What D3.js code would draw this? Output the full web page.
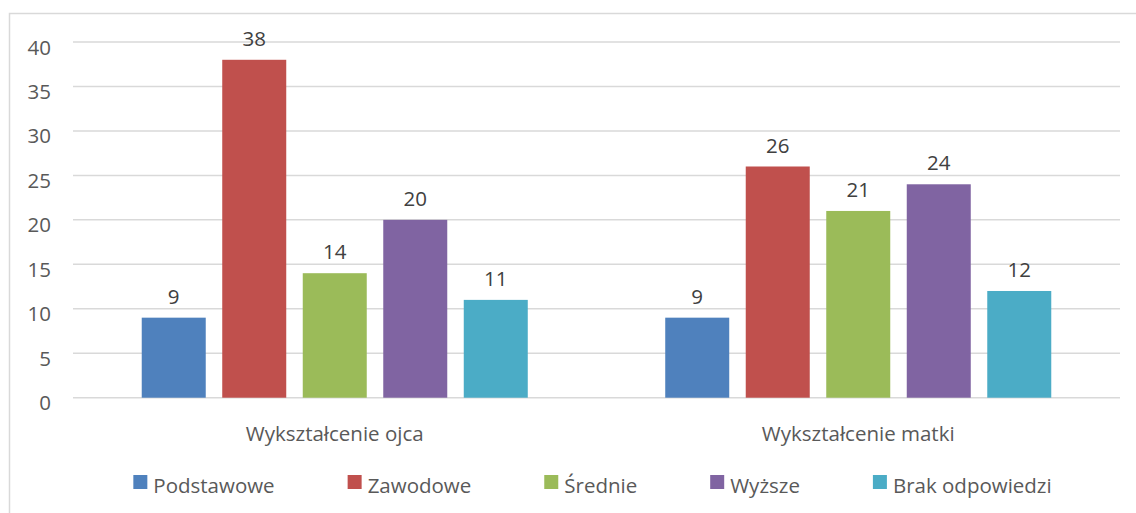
<!DOCTYPE html>
<meta charset="utf-8">
<style>
body { margin: 0; background: #fff; }
text { font-family: "Open Sans", sans-serif; }
</style>
<svg width="1136" height="513"></svg>
<script src="https://cdn.jsdelivr.net/npm/d3@7"></script>
<script>

var categories = ["Wykształcenie ojca", "Wykształcenie matki"];
var series = ["Podstawowe", "Zawodowe", "Średnie", "Wyższe", "Brak odpowiedzi"];
var ojca = [9, 38, 14, 20, 11];
var matki = [9, 26, 21, 24, 12];
var yTicks = [0, 5, 10, 15, 20, 25, 30, 35, 40];
var colors = ["#4f81bd", "#c0504d", "#9bbb59", "#8064a2", "#4bacc6"];

var values = [ojca, matki];

var svg = d3.select("svg"),
    width = +svg.attr("width"),
    height = +svg.attr("height");

// chart frame (right and bottom edges fall outside the picture)
svg.append("rect")
    .attr("x", 9.5).attr("y", 13.5)
    .attr("width", 1200).attr("height", 600)
    .attr("fill", "#fff")
    .attr("stroke", "#d9d9d9")
    .attr("stroke-width", 1.5);

var plotLeft = 73, plotRight = 1120, plotTop = 42, plotBottom = 397.7;

var y = d3.scaleLinear().domain([0, 40]).range([plotBottom, plotTop]);

var x0 = d3.scaleBand().domain(categories).range([plotLeft, plotRight]).padding(0);
var bw = x0.bandwidth(), side = bw * 0.1313;
var x1 = d3.scaleBand().domain(series).range([side, bw - side])
    .paddingInner(0.205).paddingOuter(0);

// gridlines
svg.append("g")
  .selectAll("line")
  .data(yTicks)
  .enter().append("line")
    .attr("x1", plotLeft).attr("x2", plotRight)
    .attr("y1", function(d) { return y(d); })
    .attr("y2", function(d) { return y(d); })
    .attr("stroke", "#d9d9d9")
    .attr("stroke-width", 1.5);

// y axis labels
var yAxis = d3.axisLeft(y).tickValues(yTicks).tickSize(0).tickPadding(0);
var ya = svg.append("g")
    .attr("transform", "translate(" + 51 + ",0)")
    .call(yAxis);
ya.select(".domain").remove();
ya.selectAll("text")
    .attr("font-family", "Open Sans")
    .attr("font-size", 20.5)
    .attr("fill", "#595959")
    .attr("dy", 12)
    .attr("text-anchor", "end");

// bars
var groups = svg.append("g")
  .selectAll("g")
  .data(categories)
  .enter().append("g")
    .attr("transform", function(d) { return "translate(" + x0(d) + ",0)"; });

groups.selectAll("rect")
  .data(function(d, i) { return values[i].map(function(v, j) { return {s: series[j], v: v, c: colors[j]}; }); })
  .enter().append("rect")
    .attr("x", function(d) { return x1(d.s); })
    .attr("y", function(d) { return y(d.v); })
    .attr("width", x1.bandwidth())
    .attr("height", function(d) { return y(0) - y(d.v); })
    .attr("fill", function(d) { return d.c; });

groups.selectAll("text")
  .data(function(d, i) { return values[i].map(function(v, j) { return {s: series[j], v: v}; }); })
  .enter().append("text")
    .attr("x", function(d) { return x1(d.s) + x1.bandwidth() / 2; })
    .attr("y", function(d) { return y(d.v) - 13.8; })
    .attr("text-anchor", "middle")
    .attr("font-size", 20.5)
    .attr("fill", "#404040")
    .text(function(d) { return d.v; });

// category labels
svg.append("g")
  .selectAll("text")
  .data(categories)
  .enter().append("text")
    .attr("x", function(d) { return x0(d) + bw / 2; })
    .attr("y", 441)
    .attr("text-anchor", "middle")
    .attr("font-size", 20.5)
    .attr("fill", "#595959")
    .text(function(d) { return d; });

// legend
var legend = svg.append("g");
var items = legend.selectAll("g")
  .data(series)
  .enter().append("g");

items.append("rect")
    .attr("width", 14).attr("height", 14)
    .attr("y", 475)
    .attr("fill", function(d, i) { return colors[i]; });

items.append("text")
    .attr("x", 20)
    .attr("y", 493)
    .attr("font-size", 20.5)
    .attr("fill", "#595959")
    .text(function(d) { return d; });

var gap = 73, pos = 0, offsets = [];
items.each(function() {
  var w = 20 + d3.select(this).select("text").node().getComputedTextLength();
  offsets.push(pos);
  pos += w + gap;
});
var total = pos - gap;
var startX = 592.5 - total / 2;
items.attr("transform", function(d, i) { return "translate(" + (startX + offsets[i]) + ",0)"; });

</script>
